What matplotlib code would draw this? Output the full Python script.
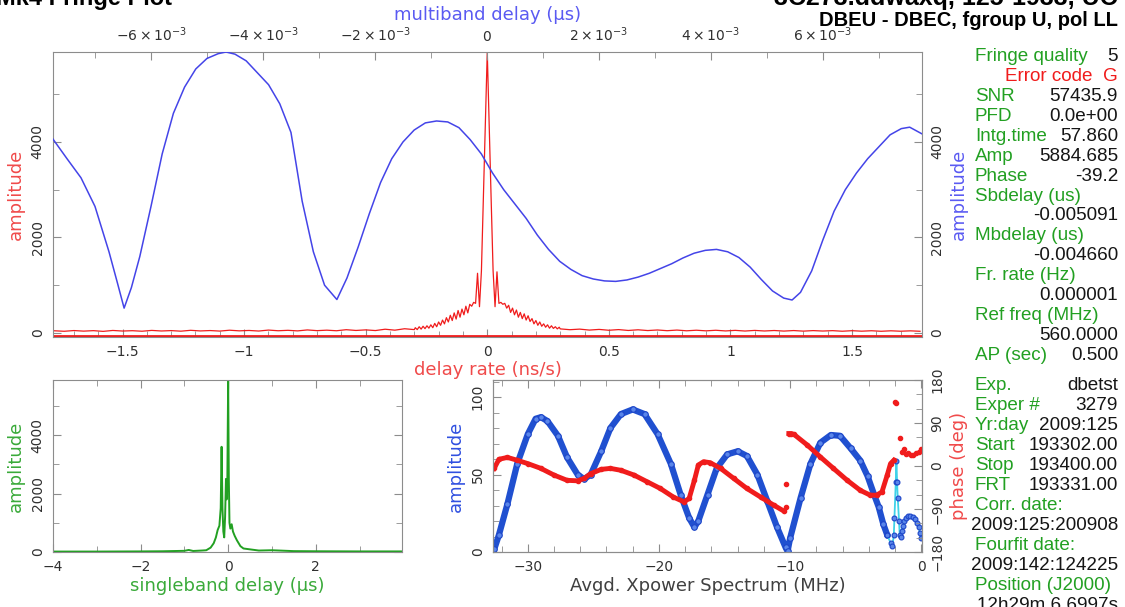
import matplotlib.pyplot as plt
import numpy as np
from matplotlib.ticker import FuncFormatter, MultipleLocator

# ---------------------------------------------------------------- data
# multiband delay function (blue), delay in units of 1e-3 us
mbd_delay = [-7.75, -7.5, -7.25, -7.0, -6.75, -6.6, -6.48, -6.35, -6.2, -6.0,
             -5.8, -5.6, -5.4, -5.2, -5.0, -4.8, -4.66, -4.5, -4.3, -4.1,
             -3.9, -3.7, -3.5, -3.3, -3.1, -2.9, -2.68, -2.5, -2.3, -2.1,
             -1.9, -1.7, -1.5, -1.3, -1.1, -0.9, -0.7, -0.5, -0.3, -0.1,
             0.1, 0.3, 0.5, 0.7, 0.9, 1.1, 1.3, 1.5, 1.7, 1.9,
             2.1, 2.3, 2.5, 2.7, 2.9, 3.1, 3.3, 3.5, 3.7, 3.9,
             4.1, 4.3, 4.5, 4.7, 4.9, 5.1, 5.3, 5.45, 5.6, 5.8,
             6.0, 6.2, 6.4, 6.6, 6.8, 7.0, 7.2, 7.4, 7.55, 7.77]
mbd_amp = [4060, 3650, 3250, 2650, 1700, 1050, 520, 950, 1600, 2650,
           3750, 4600, 5150, 5530, 5750, 5850, 5885, 5840, 5700, 5450,
           5200, 4800, 4200, 2760, 1700, 1000, 700, 1150, 1800, 2500,
           3150, 3650, 4000, 4250, 4400, 4440, 4420, 4300, 4050, 3750,
           3350, 3000, 2700, 2400, 2050, 1750, 1500, 1330, 1200, 1130,
           1090, 1080, 1110, 1170, 1250, 1350, 1450, 1570, 1670, 1730,
           1750, 1700, 1580, 1380, 1120, 880, 730, 690, 850, 1300,
           1950, 2550, 3000, 3350, 3650, 3900, 4150, 4280, 4310, 4170]

# delay rate function (red): outer stretches every 0.04 ns/s, centre every 0.008 ns/s
rate_amp_left = [45, 35, 50, 38, 48, 33, 52, 40, 47, 36,
                 53, 41, 49, 37, 55, 42, 50, 39, 57, 44,
                 52, 40, 60, 46, 55, 43, 63, 48, 58, 46,
                 68, 52, 64, 50, 78, 58, 88, 70]
rate_amp_center = [110, 70, 130, 80, 140, 90, 150, 100, 170, 110,
                   200, 130, 230, 160, 270, 190, 320, 230, 370, 260,
                   420, 290, 470, 330, 500, 380, 560, 420, 600, 560,
                   640, 620, 1250, 550, 1300, 2800, 4300,
                   5885,
                   4300, 2800, 1300, 550, 1280, 620, 640, 600, 620, 520,
                   580, 430, 520, 380, 480, 330, 430, 300, 400, 270,
                   360, 240, 300, 190, 260, 160, 230, 140, 190, 120,
                   170, 100, 150, 95, 130, 85, 120]
rate_amp_right = [85, 68, 80, 60, 74, 56, 70, 52, 66, 50,
                  62, 47, 60, 45, 57, 44, 56, 42, 54, 40,
                  53, 41, 51, 39, 50, 38, 49, 40, 48, 36,
                  47, 37, 46, 35, 45, 36, 44, 35]

# singleband delay function (green)
sbd_delay = [-4.0, -3.0, -2.0, -1.5, -1.0, -0.9, -0.8, -0.6, -0.5, -0.4,
             -0.33, -0.28, -0.24, -0.2, -0.17, -0.15, -0.13, -0.11, -0.09, -0.07,
             -0.05, -0.035, -0.02, 0.0, 0.015, 0.03, 0.05, 0.08, 0.11, 0.15,
             0.2, 0.28, 0.35, 0.45, 0.55, 0.7, 1.0, 1.5, 2.0, 3.0, 3.97]
sbd_amp = [15, 15, 20, 25, 40, 70, 35, 50, 60, 150,
           300, 500, 750, 900, 1500, 3600, 1500, 700, 500, 1200,
           2500, 1800, 2200, 5885, 2500, 1000, 800, 950, 700, 550,
           400, 200, 120, 100, 80, 50, 60, 30, 25, 20, 20]

# averaged cross power spectrum, amplitude
spec_freq = [-32.56, -32.2, -31.55, -30.8, -30.0, -29.4, -29.0, -28.5, -27.7, -27.0,
             -26.2, -25.7, -25.2, -24.4, -23.7, -22.9, -22.0, -21.1, -20.1, -19.1,
             -18.35, -17.7, -17.3, -17.0, -16.3, -15.6, -14.8, -14.0, -13.3, -12.5,
             -11.75, -11.0, -10.35, -10.2, -10.0, -9.2, -8.45, -7.7, -6.9, -6.2,
             -5.4, -4.65, -4.1, -3.6, -3.25, -2.9, -2.6]
spec_amp = [1.7, 11, 31, 57, 76, 86, 87, 84.5, 75, 61,
            50, 47, 50, 65, 80, 89, 92, 89, 76, 57,
            37, 22, 16, 20, 37, 54, 63, 65, 62, 50,
            33, 16, 3, 0.5, 9, 35, 57, 70.5, 75.5, 75,
            67, 59, 49, 37, 29, 18, 11]
spec_freq_tail = [-2.6, -2.35, -2.2, -2.1, -2.05, -1.95, -1.9, -1.85, -1.8, -1.7,
                  -1.65, -1.55, -1.5, -1.4, -1.3, -1.2, -1.0, -0.85, -0.65, -0.45,
                  -0.3, -0.2, -0.1, 0.0]
spec_amp_tail = [11, 6, 4, 11, 22, 45, 59, 45, 35, 20,
                 11, 10, 13.5, 17, 20, 22, 23, 23.5, 22.5, 21,
                 19, 16, 12, 9]

# averaged cross power spectrum, phase (deg)
phase_freq_a = [-32.56, -32.2, -31.55, -30.8, -30.0, -29.0, -28.0, -27.0, -26.2, -25.7,
                -25.2, -24.4, -23.7, -22.9, -21.9, -20.9, -19.9, -18.9, -18.1, -17.7,
                -17.3, -17.0, -16.6, -16.1, -15.3, -14.3, -13.3, -12.25, -11.25, -10.5]
phase_a = [-5, 14, 18, 12, 5, -5, -19, -30, -31, -26,
           -16, -7, -5, -9, -19, -33, -47, -65, -75, -68,
           -30, 2, 9, 7, -5, -26, -47, -65, -82, -94]
phase_freq_lone = [-10.35, -10.3]
phase_lone = [-86, -38]
phase_freq_b = [-10.1, -9.9, -9.7, -8.7, -7.7, -6.7, -5.65, -4.65, -3.9, -3.4,
                -3.0, -2.6, -2.35, -2.1]
phase_b = [68, 68, 66, 44, 19, -5, -30, -51, -61, -61,
           -54, -19, 5, 12]
phase_freq_tail = [-1.98, -1.9, -1.6, -1.5, -1.35, -1.2, -1.0, -0.8, -0.6, -0.4, -0.2, -0.05]
phase_tail = [135, 131, 58, 30, 36, 26, 28, 24, 23, 27, 30, 35]

# fringe summary text
summary_rows = [("Fringe quality", "5"), ("Error code", "G"), ("SNR", "57435.9"),
                ("PFD", "0.0e+00"), ("Intg.time", "57.860"), ("Amp", "5884.685"),
                ("Phase", "-39.2"), ("Sbdelay (us)", ""), ("", "-0.005091"),
                ("Mbdelay (us)", ""), ("", "-0.004660"), ("Fr. rate (Hz)", ""),
                ("", "0.000001"), ("Ref freq (MHz)", ""), ("", "560.0000"),
                ("AP (sec)", "0.500")]
scan_rows = [("Exp.", "dbetst"), ("Exper #", "3279"), ("Yr:day", "2009:125"),
             ("Start", "193302.00"), ("Stop", "193400.00"), ("FRT", "193331.00"),
             ("Corr. date:", ""), ("", "2009:125:200908"), ("Fourfit date:", ""),
             ("", "2009:142:124225"), ("Position (J2000)", ""), ("", "12h29m 6.6997s")]

# ---------------------------------------------------------------- style
BLUE = "#4444e8"
BLUE_TXT = "#5a5af2"
RED = "#f01c1c"
RED_TXT = "#f04a4a"
GREEN = "#22a022"
GREEN_TXT = "#3aaa3a"
FRAME = "#8c8c8c"
TICKTXT = "#303030"

W, H = 1125, 607
plt.rcParams["font.family"] = "DejaVu Sans"
fig = plt.figure(figsize=(W / 100, H / 100), dpi=100)


def rect(l, t, r, b):
    return [l / W, 1 - b / H, (r - l) / W, (b - t) / H]


def style(ax):
    for s in ax.spines.values():
        s.set_color(FRAME)
    ax.tick_params(which="both", direction="in", colors=FRAME,
                   labelcolor=TICKTXT, labelsize=10, pad=6)
    ax.tick_params(which="major", length=6)
    ax.tick_params(which="minor", length=4)


def num(v, p):
    return f"{round(v, 3) + 0:g}".replace("-", "\u2212")


# ======================================================================
#                       top panel
# ======================================================================
ax_rate = fig.add_axes(rect(53, 52, 922, 337))
style(ax_rate)
rate = np.concatenate([np.linspace(-1.78, -0.30, 38),
                       np.linspace(-0.296, 0.296, 75),
                       np.linspace(0.30, 1.78, 38)])
ax_rate.plot(rate, rate_amp_left + rate_amp_center + rate_amp_right, color=RED, lw=0.9)
ax_rate.axhline(-55, color=RED, lw=2.0)
ax_rate.set_xlim(-1.786, 1.788)
ax_rate.set_ylim(-85, 5885)
ax_rate.tick_params(top=False, right=False)
ax_rate.xaxis.set_major_locator(MultipleLocator(0.5))
ax_rate.xaxis.set_minor_locator(MultipleLocator(0.1))
ax_rate.xaxis.set_major_formatter(FuncFormatter(num))
ax_rate.set_yticks([0, 2000, 4000], ["0", "2000", "4000"], rotation=90, va="center")
ax_rate.yaxis.set_minor_locator(MultipleLocator(1000))
ax_rate.set_xlabel("delay rate (ns/s)", color=RED_TXT, fontsize=13, labelpad=1)
ax_rate.set_ylabel("amplitude", color=RED_TXT, fontsize=13, labelpad=4)

ax_mbd = fig.add_axes(rect(53, 52, 922, 337), frameon=False)
style(ax_mbd)
ax_mbd.plot(np.array(mbd_delay) * 1e-3, mbd_amp, color=BLUE, lw=1.1)
ax_mbd.set_xlim(-7.75e-3, 7.77e-3)
ax_mbd.set_ylim(-85, 5885)
ax_mbd.xaxis.tick_top()
ax_mbd.yaxis.tick_right()
ax_mbd.tick_params(which="both", top=True, right=True, bottom=False, left=False)
ax_mbd.xaxis.set_label_position("top")
ax_mbd.yaxis.set_label_position("right")
ax_mbd.xaxis.set_major_locator(MultipleLocator(2e-3))
ax_mbd.xaxis.set_minor_locator(MultipleLocator(1e-3))
ax_mbd.xaxis.set_major_formatter(FuncFormatter(
    lambda v, p: "0" if round(v * 1e3) == 0 else rf"${round(v * 1e3)}\times10^{{-3}}$"))
ax_mbd.set_yticks([0, 2000, 4000], ["0", "2000", "4000"], rotation=90, va="center")
ax_mbd.yaxis.set_minor_locator(MultipleLocator(1000))
ax_mbd.set_xlabel("multiband delay (\u03bcs)", color=BLUE_TXT, fontsize=13, labelpad=4)
ax_mbd.set_ylabel("amplitude", color=BLUE_TXT, fontsize=13, labelpad=4)

# ======================================================================
#                       singleband delay
# ======================================================================
ax_sbd = fig.add_axes(rect(53, 380, 402, 552))
style(ax_sbd)
ax_sbd.tick_params(which="both", top=True, right=True)
ax_sbd.plot(sbd_delay, sbd_amp, color=GREEN, lw=1.4)
ax_sbd.set_xlim(-4, 3.97)
ax_sbd.set_ylim(0, 5885)
ax_sbd.xaxis.set_major_locator(MultipleLocator(2))
ax_sbd.xaxis.set_minor_locator(MultipleLocator(1))
ax_sbd.xaxis.set_major_formatter(FuncFormatter(num))
ax_sbd.set_yticks([0, 2000, 4000], ["0", "2000", "4000"], rotation=90, va="center")
ax_sbd.yaxis.set_minor_locator(MultipleLocator(1000))
ax_sbd.set_xlabel("singleband delay (\u03bcs)", color=GREEN_TXT, fontsize=13, labelpad=2)
ax_sbd.set_ylabel("amplitude", color=GREEN_TXT, fontsize=13, labelpad=4)

# ======================================================================
#                       cross power spectrum
# ======================================================================
ax_spec = fig.add_axes(rect(493, 380, 922, 552))
style(ax_spec)
ax_ph = ax_spec.twinx()
style(ax_ph)
ax_spec.tick_params(which="both", top=True, right=False)
ax_spec.plot(spec_freq, spec_amp, color="#2050d0", lw=4.5, solid_capstyle="round")
ax_spec.plot(spec_freq, spec_amp, "o", ms=4, mfc="#5a86ea", mec="#1d45c8", mew=0.8)
ax_spec.plot(spec_freq_tail, spec_amp_tail, color="#3fd2e8", lw=1.3)
ax_spec.plot(spec_freq_tail, spec_amp_tail, "o", ms=3.5, mfc="#5a86ea", mec="#1d45c8", mew=0.8)
ax_spec.set_xlim(-32.65, 0.05)
ax_spec.set_ylim(0, 111)
ax_spec.xaxis.set_major_locator(MultipleLocator(10))
ax_spec.xaxis.set_minor_locator(MultipleLocator(2))
ax_spec.xaxis.set_major_formatter(FuncFormatter(num))
ax_spec.set_yticks([0, 50, 100], ["0", "50", "100"], rotation=90, va="center")
ax_spec.yaxis.set_minor_locator(MultipleLocator(10))
ax_spec.set_xlabel("Avgd. Xpower Spectrum (MHz)", color="#404040", fontsize=13, labelpad=2)
ax_spec.set_ylabel("amplitude", color="#3050e0", fontsize=13, labelpad=4)

ax_ph.tick_params(which="both", left=False, right=True)
ax_ph.plot(phase_freq_a, phase_a, color=RED, lw=3.5, marker="o", ms=3)
ax_ph.plot(phase_freq_b, phase_b, color=RED, lw=3.5, marker="o", ms=3)
ax_ph.plot(phase_freq_lone, phase_lone, "o", color=RED, ms=3)
ax_ph.plot(phase_freq_tail, phase_tail, "o", color=RED, ms=3)
ax_ph.set_ylim(-180, 180)
ax_ph.set_yticks([-180, -90, 0, 90, 180], ["\u2212180", "\u221290", "0", "90", "180"],
                 rotation=90, va="center")
ax_ph.yaxis.set_minor_locator(MultipleLocator(30))
ax_ph.set_ylabel("phase (deg)", color=RED_TXT, fontsize=13, labelpad=4)

# ======================================================================
#                       titles and text panel
# ======================================================================
fig.text(-4 / W, 1 - 5 / H, "Mk4 Fringe Plot", fontsize=17, fontweight="bold",
         family="Liberation Sans", ha="left", va="baseline")
fig.text(1118 / W, 1 - 5 / H, "3C273.ddwaxq, 125-1933, UC", fontsize=18,
         fontweight="bold", family="Liberation Sans", ha="right", va="baseline")
fig.text(1118 / W, 1 - 26 / H, "DBEU - DBEC, fgroup U, pol LL", fontsize=14.5,
         fontweight="bold", family="Liberation Sans", ha="right", va="baseline")


def info_block(rows, base, step):
    for i, (label, value) in enumerate(rows):
        y = 1 - (base + i * step) / H
        if label == "Error code":
            fig.text(1118 / W, y, f"{label}  {value}", color="#f01c1c", fontsize=13.6,
                     family="Liberation Sans", ha="right", va="baseline")
            continue
        if label:
            fig.text(975 / W, y, label, color=GREEN, fontsize=13.6,
                     family="Liberation Sans", ha="left", va="baseline")
        if value:
            fig.text(1118 / W, y, value, color="#151515", fontsize=13.6,
                     family="Liberation Sans", ha="right", va="baseline")


info_block(summary_rows, 61, 19.93)
info_block(scan_rows, 390, 20)

fig.savefig("out.png", dpi=100)
